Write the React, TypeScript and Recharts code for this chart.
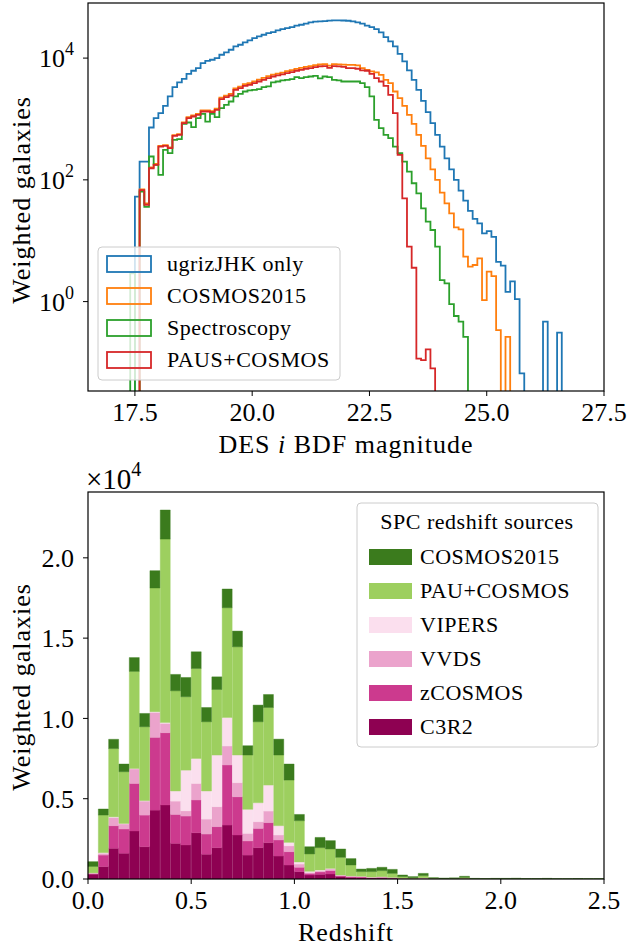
import React from 'react';
import { LineChart, Line, BarChart, Bar, XAxis, YAxis } from 'recharts';

// ---- top panel: DES i magnitude histograms (bins of 0.1 mag from 17.0) ----
const magStart = 17.0;
const magWidth = 0.1;

const ugrizOnly = [
  0, 0, 0, 0, 0, 53, 200, 200, 725, 1030,
  1245, 1645, 2345, 3335, 3980, 4570, 5520, 6195, 6855, 8280,
  9040, 9400, 10000, 11350, 12390, 13710, 15560, 16560, 18110, 19540,
  21330, 22700, 24210, 25760, 26790, 28510, 29990, 31120, 32360, 34040,
  35320, 36730, 38640, 39630, 40090, 40640, 41200, 41700, 41700, 41500,
  41100, 40090, 38640, 36730, 34040, 32360, 29990, 26430, 22130, 18790,
  15560, 11780, 8810, 6270, 4400, 3015, 1985, 1294, 853, 548,
  352, 226, 149, 100, 66.6, 45.6, 31, 22.8, 19.3, 13.2,
  14.4, 11.6, 4.5, 3.9, 1.45, 2.15, 1.1, 0.066, 0, 0,
  0, 0, 0.47, 0, 0, 0.31, 0, 0, 0, 0,
];

const cosmos2015Mag = [
  0, 0, 0, 0, 0, 0, 70, 41, 160, 182,
  362, 372, 342, 545, 566, 880, 1070, 1140, 1215, 1380,
  1385, 1350, 1475, 2240, 2420, 2580, 3190, 3410, 3730, 3890,
  4150, 4420, 4720, 5030, 5350, 5570, 5790, 6090, 6330, 6660,
  6920, 7180, 7380, 7650, 7850, 7940, 7500, 7950, 7880, 7800,
  7760, 7760, 7570, 6855, 6430, 6040, 5810, 5320, 4400, 3880,
  2830, 2200, 1645, 1170, 832, 548, 361, 226, 149, 100,
  61.8, 41.2, 28.2, 16.6, 15.4, 5.47, 3.75, 3.99, 5.14, 1.06,
  3.1, 2.63, 0.34, 0, 0.264, 0, 0, 0, 0, 0,
  0, 0, 0, 0, 0, 0, 0, 0, 0, 0,
];

const spectroscopy = [
  0, 0, 0, 0, 2.9, 0, 64, 36, 242, 176,
  121, 311, 274, 454, 466, 832, 875, 733, 1030, 1213,
  908, 1213, 1071, 1507, 1707, 1937, 2345, 2590, 2830, 2940,
  3015, 3090, 3335, 3420, 3980, 4130, 4295, 4400, 4515, 4865,
  4690, 4865, 4990, 5115, 4630, 4990, 4865, 4400, 4295, 4130,
  4130, 4130, 4130, 3880, 3335, 2345, 969, 706, 548, 483,
  352, 274, 200, 137, 88, 60, 34, 20.6, 15, 8.0,
  2.26, 1.99, 0.91, 0.58, 0.47, 0.264, 0, 0, 0, 0,
  0, 0, 0, 0, 0, 0, 0, 0, 0, 0,
  0, 0, 0, 0, 0, 0, 0, 0, 0, 0,
];

const pausCosmos = [
  0, 0, 0, 0, 0, 0, 68, 39, 155, 176,
  352, 361, 331, 528, 548, 853, 1030, 1099, 1169, 1327,
  1327, 1294, 1413, 2117, 2285, 2432, 3015, 3211, 3510, 3643,
  3880, 4130, 4400, 4690, 4990, 5185, 5385, 5665, 5890, 6195,
  6430, 6680, 6855, 7115, 7300, 7385, 6935, 7385, 7300, 7200,
  6855, 6855, 6680, 6270, 6195, 5520, 4690, 4130, 3510, 2495,
  1245, 257, 49.8, 8.0, 3.6, 0.116, 0.109, 0.164, 0.08, 0,
  0, 0, 0, 0, 0, 0, 0, 0, 0, 0,
  0, 0, 0, 0, 0, 0, 0, 0, 0, 0,
  0, 0, 0, 0, 0, 0, 0, 0, 0, 0,
];

const magTicks = [17.5, 20, 22.5, 25, 27.5];
const logTicks = [1, 100, 10000];

// ---- bottom panel: stacked redshift histogram, units of 1e4, bins of 0.05 ----
const zBinWidth = 0.05;

const c3r2 = [
  0.030, 0.077, 0.191, 0.160, 0.299, 0.201, 0.429, 0.461, 0.222, 0.212,
  0.288, 0.154, 0.195, 0.336, 0.274, 0.149, 0.195, 0.226, 0.143, 0.087,
  0.046, 0.025, 0.029, 0.031, 0.015, 0.010, 0.008, 0.006, 0.006, 0.005,
  0.003, 0.002, 0.003, 0.001, 0.001, 0.001, 0.002, 0, 0, 0,
  0, 0, 0, 0, 0, 0, 0, 0, 0, 0,
];
const zcosmos = [
  0.005, 0.072, 0.141, 0.151, 0.296, 0.197, 0.453, 0.450, 0.180, 0.180,
  0.204, 0.126, 0.131, 0.374, 0.238, 0.088, 0.120, 0.125, 0.100, 0.083,
  0.027, 0.010, 0.015, 0.021, 0.006, 0.006, 0.006, 0.004, 0.005, 0.003,
  0.001, 0.001, 0.002, 0.001, 0, 0, 0.001, 0, 0, 0,
  0, 0, 0, 0, 0, 0, 0, 0, 0, 0,
];
const vvds = [
  0.002, 0.011, 0.050, 0.031, 0.090, 0.087, 0.155, 0.058, 0.083, 0.033,
  0.103, 0.093, 0.124, 0.118, 0.088, 0.047, 0.042, 0.072, 0.031, 0.037,
  0.020, 0.006, 0.006, 0.010, 0.003, 0.002, 0.002, 0.001, 0.002, 0.001,
  0.001, 0, 0.001, 0, 0, 0, 0, 0, 0, 0,
  0, 0, 0, 0, 0, 0, 0, 0, 0, 0,
];
const vipers = [
  0.001, 0.004, 0.005, 0.004, 0.003, 0.003, 0.005, 0.005, 0.063, 0.253,
  0.156, 0.175, 0.322, 0.178, 0.172, 0.150, 0.118, 0.162, 0.058, 0.021,
  0.013, 0.007, 0.006, 0.004, 0.001, 0.001, 0.001, 0.001, 0.001, 0.001,
  0, 0, 0.001, 0, 0, 0, 0, 0, 0, 0,
  0, 0, 0, 0, 0, 0, 0, 0, 0, 0,
];
const pauCosmos = [
  0.040, 0.234, 0.425, 0.322, 0.605, 0.460, 0.770, 1.143, 0.624, 0.457,
  0.560, 0.431, 0.408, 0.683, 0.674, 0.338, 0.504, 0.483, 0.440, 0.388,
  0.257, 0.108, 0.139, 0.121, 0.110, 0.068, 0.029, 0.034, 0.038, 0.025,
  0.010, 0.005, 0.014, 0.003, 0.002, 0.003, 0.007, 0.002, 0.001, 0.002,
  0.001, 0.002, 0.001, 0.001, 0.001, 0.001, 0.001, 0.001, 0.001, 0.001,
];
const cosmos2015 = [
  0.030, 0.038, 0.058, 0.048, 0.086, 0.083, 0.108, 0.181, 0.102, 0.120,
  0.104, 0.089, 0.079, 0.117, 0.098, 0.058, 0.104, 0.081, 0.099, 0.100,
  0.039, 0.045, 0.064, 0.052, 0.052, 0.040, 0.016, 0.020, 0.021, 0.025,
  0.010, 0.007, 0.014, 0.003, 0.003, 0.003, 0.007, 0.002, 0.002, 0.002,
  0.003, 0.003, 0.002, 0.002, 0.003, 0.001, 0.001, 0.002, 0.001, 0.001,
];

const zTicks = [0, 0.5, 1, 1.5, 2, 2.5];
const countTicks = [0, 0.5, 1, 1.5, 2];

const FONT = "'Liberation Serif', 'Times New Roman', serif";
const FLOOR = 1e-3; // empty bins drop below the log axis and get clipped

const magSeries = [
  { name: 'ugrizJHK only', values: ugrizOnly, color: '#1f77b4' },
  { name: 'COSMOS2015', values: cosmos2015Mag, color: '#ff7f0e' },
  { name: 'Spectroscopy', values: spectroscopy, color: '#2ca02c' },
  { name: 'PAUS+COSMOS', values: pausCosmos, color: '#d62728' },
];

const zSeries = [
  { key: 'c3r2', name: 'C3R2', values: c3r2, color: '#8e0152' },
  { key: 'zcosmos', name: 'zCOSMOS', values: zcosmos, color: '#cc3a8e' },
  { key: 'vvds', name: 'VVDS', values: vvds, color: '#eba3cc' },
  { key: 'vipers', name: 'VIPERS', values: vipers, color: '#fbdfee' },
  { key: 'pau', name: 'PAU+COSMOS', values: pauCosmos, color: '#9dcf5f' },
  { key: 'cosmos', name: 'COSMOS2015', values: cosmos2015, color: '#3b7b1d' },
];

// step outline: one point per left bin edge plus the closing edge
const stepData = (vals: number[]) => {
  const pts = vals.map((v, i) => ({ x: +(magStart + i * magWidth).toFixed(2), y: v > 0 ? v : FLOOR }));
  pts.push({ x: +(magStart + vals.length * magWidth).toFixed(2), y: FLOOR });
  return pts;
};

const zRows = c3r2.map((_, i) => {
  const row: any = { bin: (i * zBinWidth).toFixed(2), z: +((i + 0.5) * zBinWidth).toFixed(3) };
  zSeries.forEach(s => { row[s.key] = s.values[i]; });
  return row;
});

const PowTick = (props: any) => {
  const { x, y, payload } = props;
  const exp = Math.round(Math.log10(payload.value));
  return (
    <text x={x} y={y + 9} textAnchor="end" fontFamily={FONT} fontSize={26} fill="#000">
      10<tspan dy={-12} fontSize={18}>{exp}</tspan>
    </text>
  );
};

const tickStyle = { fontFamily: FONT, fontSize: 26, fill: '#000' };

const App: React.FC = () => {
  return (
    <div style={{ position: 'absolute', left: 0, top: 0, width: 629, height: 949, background: '#fff' }}>
      <div style={{ position: 'absolute', left: 0, top: 0 }}>
        <LineChart width={629} height={470} margin={{ top: 3, right: 25, bottom: 0, left: 8 }}>
          <XAxis
            dataKey="x" type="number" domain={[16.5, 27.5]} ticks={magTicks} allowDataOverflow
            tickFormatter={(v: number) => v.toFixed(1)} height={79} axisLine={false}
            tickSize={5} tickMargin={7} tick={tickStyle} tickLine={{ stroke: '#000' }}
          />
          <YAxis
            dataKey="y" type="number" scale="log" domain={[0.034, 80400]} ticks={logTicks} allowDataOverflow
            width={80} axisLine={false} tickSize={5} tickMargin={9} tick={<PowTick />} tickLine={{ stroke: '#000' }}
          />
          {magSeries.map(s => (
            <Line
              key={s.name} data={stepData(s.values)} dataKey="y" type="stepAfter" stroke={s.color}
              strokeWidth={1.8} dot={false} activeDot={false} isAnimationActive={false}
            />
          ))}
        </LineChart>
      </div>

      <div style={{ position: 'absolute', left: 0, top: 480 }}>
        <BarChart width={629} height={469} data={zRows} margin={{ top: 12, right: 25, bottom: 0, left: 8 }}
          barCategoryGap={0} barGap={0}>
          <XAxis
            xAxisId="z" dataKey="z" type="number" domain={[0, 2.5]} ticks={zTicks} allowDataOverflow
            tickFormatter={(v: number) => v.toFixed(1)} height={70} axisLine={false}
            tickSize={5} tickMargin={7} tick={tickStyle} tickLine={{ stroke: '#000' }}
          />
          <XAxis xAxisId="bins" dataKey="bin" hide height={0} />
          <YAxis
            type="number" domain={[0, 2.41]} ticks={countTicks} allowDataOverflow
            tickFormatter={(v: number) => v.toFixed(1)} width={80} axisLine={false}
            tickSize={5} tickMargin={9} tick={tickStyle} tickLine={{ stroke: '#000' }}
          />
          {zSeries.map(s => (
            <Bar key={s.key} xAxisId="bins" dataKey={s.key} stackId="z" fill={s.color}
              stroke={s.color} strokeWidth={0.4} isAnimationActive={false} />
          ))}
        </BarChart>
      </div>

      <svg width={629} height={949} style={{ position: 'absolute', left: 0, top: 0, pointerEvents: 'none' }}
        fontFamily={FONT}>
        {/* axes frames */}
        <rect x={88} y={3} width={516} height={388} fill="none" stroke="#000" strokeWidth={1.2} />
        <rect x={88} y={492} width={516} height={387} fill="none" stroke="#000" strokeWidth={1.2} />

        {/* axis titles */}
        <text transform="translate(30,200) rotate(-90)" textAnchor="middle" fontSize={26} letterSpacing={1}>
          Weighted galaxies
        </text>
        <text x={346} y={453} textAnchor="middle" fontSize={26} letterSpacing={1}>
          DES <tspan fontStyle="italic">i</tspan> BDF magnitude
        </text>
        <text transform="translate(30,687) rotate(-90)" textAnchor="middle" fontSize={26} letterSpacing={1}>
          Weighted galaxies
        </text>
        <text x={346} y={941} textAnchor="middle" fontSize={26} letterSpacing={1}>Redshift</text>
        <text x={86} y={489} fontSize={29}>×10<tspan dy={-13} fontSize={20}>4</tspan></text>

        {/* top legend */}
        <rect x={98} y={247} width={242} height={133} rx={4} fill="#fff" fillOpacity={0.8} stroke="#ccc" />
        {magSeries.map((s, i) => {
          const cy = 264 + i * 32;
          return (
            <g key={s.name}>
              <rect x={107} y={cy - 8} width={44} height={16} fill="none" stroke={s.color} strokeWidth={1.8} />
              <text x={167} y={cy + 7} fontSize={22} letterSpacing={0.5}>{s.name}</text>
            </g>
          );
        })}

        {/* bottom legend */}
        <rect x={357} y={503} width={241} height={244} rx={4} fill="#fff" fillOpacity={0.8} stroke="#ccc" />
        <text x={477} y={529} textAnchor="middle" fontSize={22} letterSpacing={0.5}>SPC redshift sources</text>
        {[...zSeries].reverse().map((s, i) => {
          const cy = 557 + i * 34;
          return (
            <g key={s.key}>
              <rect x={369} y={cy - 8} width={43} height={16} fill={s.color} />
              <text x={420} y={cy + 7} fontSize={22} letterSpacing={0.5}>{s.name}</text>
            </g>
          );
        })}
      </svg>
    </div>
  );
};

export default App;
